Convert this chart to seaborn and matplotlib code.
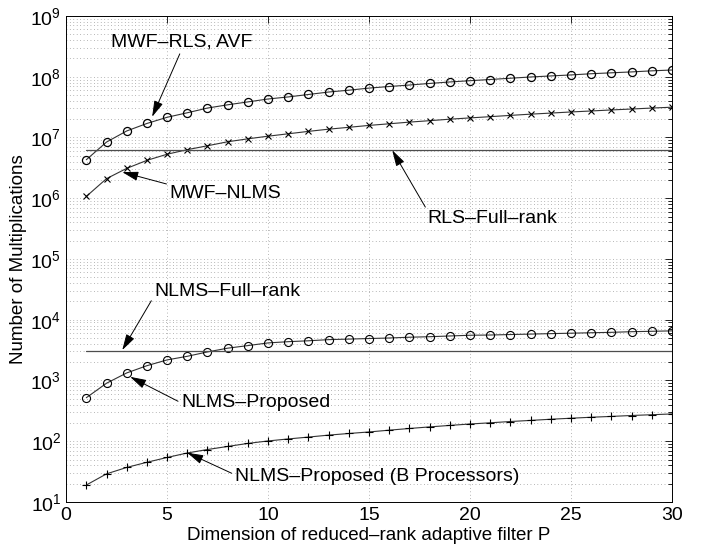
import numpy as np
import pandas as pd
import matplotlib
matplotlib.use("Agg")
import matplotlib.pyplot as plt
import seaborn as sns

# Computational complexity versus reduced-rank dimension P
P = list(range(1, 31))

mwf_rls_avf = [4.3e6, 8.4e6, 1.28e7, 1.7e7, 2.15e7, 2.55e7, 3.05e7, 3.45e7, 3.85e7, 4.3e7,
               4.65e7, 5.1e7, 5.6e7, 6.0e7, 6.5e7, 6.9e7, 7.3e7, 7.75e7, 8.2e7, 8.6e7,
               9.0e7, 9.45e7, 9.9e7, 1.03e8, 1.07e8, 1.12e8, 1.16e8, 1.2e8, 1.25e8, 1.29e8]

mwf_nlms = [1.07e6, 2.1e6, 3.1e6, 4.2e6, 5.3e6, 6.3e6, 7.3e6, 8.5e6, 9.5e6, 1.05e7,
            1.15e7, 1.26e7, 1.37e7, 1.47e7, 1.58e7, 1.68e7, 1.79e7, 1.89e7, 2.0e7, 2.1e7,
            2.2e7, 2.31e7, 2.42e7, 2.52e7, 2.63e7, 2.73e7, 2.84e7, 2.94e7, 3.05e7, 3.15e7]

rls_full_rank = 6.3e6
nlms_full_rank = 3.1e3

nlms_proposed = [520, 900, 1330, 1750, 2180, 2500, 2950, 3400, 3750, 4150,
                 4350, 4500, 4700, 4800, 4900, 5000, 5150, 5250, 5400, 5550,
                 5600, 5700, 5800, 5900, 6000, 6100, 6200, 6350, 6450, 6550]

nlms_proposed_b = [19, 29, 37, 45, 54, 64, 73, 82, 92, 101,
                   109, 117, 126, 134, 142, 152, 162, 172, 182, 192,
                   201, 211, 220, 230, 239, 248, 256, 265, 273, 281]

x_ticks = [0, 5, 10, 15, 20, 25, 30]

sns.set_theme(style="white")
plt.rcParams["font.family"] = ["Liberation Sans", "DejaVu Sans"]
plt.rcParams["mathtext.fontset"] = "custom"
plt.rcParams["mathtext.rm"] = "Liberation Sans"
plt.rcParams["text.color"] = "black"
plt.rcParams["axes.labelcolor"] = "black"

fig = plt.figure(figsize=(7.11, 5.51), dpi=100)
ax = fig.add_axes([0.093, 0.089, 0.852, 0.882])

df_full = pd.DataFrame({"P": [P[0], P[-1]]})

line_kw = dict(ax=ax, color="0.2", linewidth=0.8, legend=False)
sns.lineplot(x=P, y=mwf_rls_avf, marker="o", markersize=5.8, markerfacecolor="none",
             markeredgecolor="black", markeredgewidth=0.9, **line_kw)
sns.lineplot(x=P, y=mwf_nlms, marker="x", markersize=4, markeredgecolor="black",
             markeredgewidth=0.8, **line_kw)
sns.lineplot(x=P, y=nlms_proposed, marker="o", markersize=5.8, markerfacecolor="none",
             markeredgecolor="black", markeredgewidth=0.8, **line_kw)
sns.lineplot(x=P, y=nlms_proposed_b, marker="+", markersize=5.5, markeredgecolor="black",
             markeredgewidth=0.8, **line_kw)
sns.lineplot(x=df_full["P"], y=[rls_full_rank] * 2, ax=ax, color="0.3", linewidth=0.9)
sns.lineplot(x=df_full["P"], y=[nlms_full_rank] * 2, ax=ax, color="0.3", linewidth=0.9)

ax.set_yscale("log")
ax.set_xlim(0, 30)
ax.set_ylim(1e1, 1e9)
ax.set_xticks(x_ticks)
ax.set_yticks([10.0 ** k for k in range(1, 10)])
ax.yaxis.set_minor_locator(matplotlib.ticker.LogLocator(base=10, subs=np.arange(2, 10)))

ax.grid(True, which="major", axis="both", color="0.55", linestyle=(0, (1, 3.5)), linewidth=0.55)
ax.grid(True, which="minor", axis="y", color="0.55", linestyle=(0, (1, 3.5)), linewidth=0.55)

ax.tick_params(which="both", direction="in", top=True, right=True, colors="black",
               labelcolor="black", labelsize=14, width=0.6)
ax.tick_params(which="major", length=5)
ax.tick_params(which="minor", length=3)
for s in ax.spines.values():
    s.set_color("black")
    s.set_linewidth(0.7)

ax.set_xlabel("Dimension of reduced\u2013rank adaptive filter P", fontsize=13.5, labelpad=2,
              color="black")
ax.set_ylabel("Number of Multiplications", fontsize=13.5, labelpad=2, color="black")

arrow = dict(arrowstyle="-|>,head_length=0.7,head_width=0.2", color="black", lw=0.7,
             shrinkA=0, shrinkB=0)

notes = [
    ("MWF\u2013RLS, AVF", (4.26, 10 ** 7.34), (5.7, 10 ** 8.57), (0.5, 0.0)),
    ("MWF\u2013NLMS", (2.78, 10 ** 6.43), (7.9, 10 ** 6.08), (0.0, 1.0)),
    ("RLS\u2013Full\u2013rank", (16.15, 10 ** 6.79), (21.1, 10 ** 5.66), (0.0, 1.0)),
    ("NLMS\u2013Full\u2013rank", (2.78, 10 ** 3.50), (8.0, 10 ** 4.46), (0.0, 0.3)),
    ("NLMS\u2013Proposed", (3.17, 10 ** 3.06), (9.4, 10 ** 2.63), (0.0, 0.5)),
    ("NLMS\u2013Proposed (B Processors)", (6.0, 10 ** 1.81), (15.4, 10 ** 1.42), (0.0, 0.6)),
]
for text, tip, pos, rel in notes:
    props = dict(arrow)
    props["relpos"] = rel
    ax.annotate(text, xy=tip, xytext=pos, textcoords="data", ha="center", va="center",
                fontsize=14, color="black", arrowprops=props)

fig.savefig("out.png", dpi=100)
